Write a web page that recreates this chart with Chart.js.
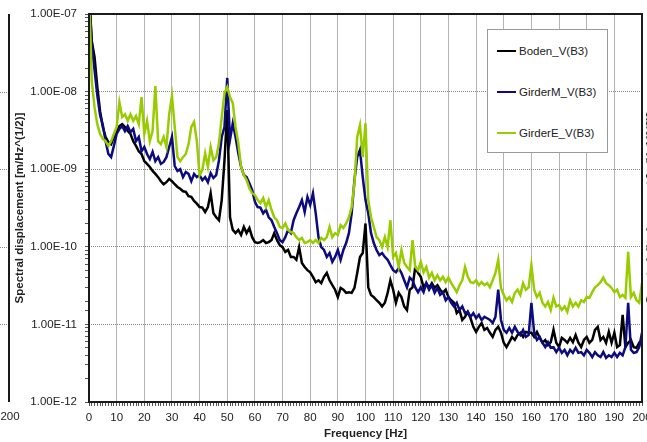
<!DOCTYPE html>
<html>
<head>
<meta charset="utf-8">
<script src="https://cdn.jsdelivr.net/npm/chart.js@4/dist/chart.umd.min.js"></script>
<style>
  html, body { margin: 0; padding: 0; background: #fff; }
  #wrap { position: relative; width: 647px; height: 442px; overflow: hidden; }
  #legend {
    position: absolute; left: 487px; top: 29px; width: 119px; height: 122px;
    border: 1px solid #9a9a9a; background: #fff;
    font: 11.5px "Liberation Sans", Arial, sans-serif; color: #222;
  }
  .item { position: absolute; left: 9px; height: 14px; line-height: 14px; white-space: nowrap; }
  .swatch { display: inline-block; width: 19px; height: 2px; vertical-align: middle; margin-right: 3px; position: relative; top: -1px; }
  #nextTitle {
    position: absolute; left: 650px; top: 208px; white-space: nowrap;
    transform: translate(-50%, -50%) rotate(-90deg);
    font: bold 11.5px "Liberation Sans", Arial, sans-serif; color: #222;
  }
</style>
</head>
<body>
<div id="wrap">
  <canvas id="spektrum" width="647" height="442"></canvas>
  <div id="legend"></div>
  <div id="nextTitle">Spectral displacement [m/Hz^(1/2)]</div>
</div>
<script>
// Frequenz [Hz]
const freqHz = [
  0,1,2,3,4,5,6,7,8,9,10,11,12,13,14,15,16,17,18,19,20,21,22,23,24,25,26,27,28,29,
  30,31,32,33,34,35,36,37,38,39,40,41,42,43,44,45,46,47,48,49,50,51,52,53,54,55,56,57,58,59,
  60,61,62,63,64,65,66,67,68,69,70,71,72,73,74,75,76,77,78,79,80,81,82,83,84,85,86,87,88,89,
  90,91,92,93,94,95,96,97,98,99,100,101,102,103,104,105,106,107,108,109,110,111,112,113,114,115,116,117,118,119,
  120,121,122,123,124,125,126,127,128,129,130,131,132,133,134,135,136,137,138,139,140,141,142,143,144,145,146,147,148,149,
  150,151,152,153,154,155,156,157,158,159,160,161,162,163,164,165,166,167,168,169,170,171,172,173,174,175,176,177,178,179,
  180,181,182,183,184,185,186,187,188,189,190,191,192,193,194,195,196,197,198,199,200
];

const boden = [
  2.0e-7,4.5e-8,2.8e-8,1.15e-8,5.6e-9,3.5e-9,2.6e-9,2.24e-9,2.1e-9,2.6e-9,
  3.1e-9,3.6e-9,3.8e-9,3.5e-9,3.1e-9,2.85e-9,2.3e-9,2.0e-9,1.7e-9,1.57e-9,
  1.27e-9,1.17e-9,1.07e-9,9.5e-10,8.7e-10,7.9e-10,7.0e-10,6.4e-10,6.8e-10,7.5e-10,
  7.0e-10,6.4e-10,5.9e-10,5.6e-10,5.2e-10,5.1e-10,4.5e-10,4.4e-10,3.9e-10,3.6e-10,
  3.25e-10,3.2e-10,2.8e-10,3.25e-10,4.9e-10,2.7e-10,2.4e-10,2.2e-10,4.0e-10,1.3e-9,
  5.8e-9,2.4e-10,1.65e-10,1.5e-10,1.65e-10,1.42e-10,1.8e-10,1.5e-10,1.75e-10,1.33e-10,
  1.15e-10,1.12e-10,1.15e-10,1.22e-10,1.12e-10,1.15e-10,1.22e-10,1.5e-10,1.22e-10,1.05e-10,
  9.9e-11,8.6e-11,9.1e-11,7.4e-11,7.4e-11,6.8e-11,9.9e-11,6.2e-11,5.5e-11,5.0e-11,
  4.7e-11,4.1e-11,3.5e-11,3.7e-11,3.4e-11,4.1e-11,4.6e-11,3.7e-11,3.2e-11,2.8e-11,
  2.25e-11,2.95e-11,2.8e-11,2.55e-11,2.6e-11,2.55e-11,2.95e-11,4.6e-11,7.4e-11,8.3e-11,
  2.0e-10,3.0e-11,2.4e-11,2.25e-11,2.05e-11,1.9e-11,1.7e-11,1.9e-11,2.55e-11,3.7e-11,
  2.8e-11,1.9e-11,2.55e-11,2.25e-11,1.7e-11,1.53e-11,2.8e-11,3.0e-11,5.5e-11,4.6e-11,
  4.1e-11,3.0e-11,3.4e-11,2.95e-11,3.4e-11,2.95e-11,3.2e-11,2.8e-11,2.55e-11,2.8e-11,
  2.25e-11,2.05e-11,1.9e-11,1.4e-11,1.53e-11,1.14e-11,1.25e-11,1.45e-11,1.2e-11,9.3e-12,
  8.0e-12,9.3e-12,1.04e-11,8.5e-12,9.0e-12,7.8e-12,6.9e-12,8.5e-12,9.3e-12,7.8e-12,
  5.8e-12,5.1e-12,5.9e-12,6.9e-12,6.3e-12,7.3e-12,7.8e-12,6.9e-12,8.0e-12,7.8e-12,
  7.8e-12,6.9e-12,8.0e-12,6.7e-12,5.8e-12,6.3e-12,5.4e-12,5.9e-12,8.5e-12,5.8e-12,
  5.1e-12,6.7e-12,6.3e-12,5.8e-12,6.7e-12,5.9e-12,7.3e-12,5.8e-12,5.1e-12,6.3e-12,
  6.9e-12,5.8e-12,6.3e-12,8.5e-12,9.3e-12,6.3e-12,6.9e-12,5.8e-12,8.0e-12,5.8e-12,
  7.8e-12,5.1e-12,5.4e-12,1.33e-11,5.1e-12,5.8e-12,6.3e-12,5.1e-12,5.0e-12,5.8e-12,
  5.4e-12
];

const girderM = [
  2.0e-7,4.0e-8,1.9e-8,9.0e-9,5.0e-9,3.7e-9,2.3e-9,1.57e-9,1.43e-9,2.0e-9,
  2.85e-9,3.3e-9,3.6e-9,3.1e-9,3.6e-9,3.0e-9,3.3e-9,2.3e-9,2.6e-9,1.7e-9,
  1.93e-9,1.57e-9,1.35e-9,1.67e-9,1.27e-9,1.43e-9,1.17e-9,1.24e-9,1.43e-9,1.93e-9,
  2.6e-9,1.1e-9,9.5e-10,1.0e-9,7.9e-10,9.2e-10,8.7e-10,7.0e-10,8.7e-10,7.9e-10,
  8.4e-10,7.25e-10,7.9e-10,6.8e-10,8.9e-10,7.7e-10,8.4e-10,1.3e-9,2.6e-9,3.5e-9,
  1.5e-8,2.4e-9,3.9e-9,2.6e-9,1.6e-9,1.07e-9,8.4e-10,7.9e-10,6.6e-10,5.4e-10,
  3.8e-10,3.25e-10,3.2e-10,2.7e-10,3.0e-10,2.4e-10,2.2e-10,1.8e-10,1.5e-10,1.22e-10,
  1.15e-10,1.33e-10,1.65e-10,1.5e-10,2.2e-10,2.7e-10,3.25e-10,4.0e-10,2.8e-10,4.4e-10,
  3.45e-10,4.9e-10,2.7e-10,1.33e-10,9.9e-11,9.1e-11,7.4e-11,8.3e-11,6.4e-11,7.4e-11,
  9.1e-11,6.8e-11,9.1e-11,1.12e-10,1.5e-10,2.7e-10,7.25e-10,1.43e-9,1.77e-9,7.9e-10,
  4.0e-10,2.7e-10,1.5e-10,1.12e-10,9.1e-11,7.8e-11,8.3e-11,7.4e-11,6.8e-11,5.8e-11,
  5.0e-11,4.7e-11,5.3e-11,4.6e-11,3.7e-11,3.0e-11,4.0e-11,3.7e-11,3.0e-11,2.6e-11,
  3.0e-11,2.6e-11,3.4e-11,2.8e-11,3.2e-11,2.55e-11,2.95e-11,2.4e-11,2.6e-11,2.05e-11,
  2.25e-11,1.9e-11,1.7e-11,1.9e-11,1.53e-11,1.7e-11,1.4e-11,1.45e-11,1.25e-11,1.4e-11,
  1.2e-11,1.33e-11,1.14e-11,1.25e-11,1.2e-11,1.14e-11,1.04e-11,1.25e-11,2.8e-11,1.14e-11,
  8.5e-12,7.8e-12,9.0e-12,7.8e-12,9.3e-12,8.0e-12,7.3e-12,8.5e-12,6.9e-12,7.3e-12,
  1.9e-11,7.8e-12,6.3e-12,6.9e-12,5.8e-12,5.1e-12,5.9e-12,5.0e-12,5.1e-12,4.4e-12,
  5.0e-12,4.3e-12,4.7e-12,4.0e-12,4.7e-12,4.3e-12,5.0e-12,4.3e-12,4.4e-12,4.0e-12,
  4.7e-12,4.3e-12,3.8e-12,4.4e-12,4.0e-12,3.8e-12,4.4e-12,3.7e-12,4.0e-12,3.8e-12,
  4.3e-12,3.8e-12,4.3e-12,4.0e-12,5.1e-12,1.9e-11,4.7e-12,4.3e-12,4.4e-12,5.1e-12,
  7.8e-12
];

const girderE = [
  2.0e-7,1.37e-8,6.3e-9,3.8e-9,2.85e-9,2.45e-9,2.3e-9,2.0e-9,2.3e-9,2.85e-9,
  3.5e-9,7.3e-9,4.7e-9,5.1e-9,4.2e-9,5.1e-9,4.2e-9,4.85e-9,3.8e-9,8.5e-9,
  2.85e-9,4.2e-9,2.3e-9,3.1e-9,1.18e-8,2.3e-9,2.1e-9,2.6e-9,1.93e-9,5.1e-9,
  8.8e-9,3.5e-9,1.43e-9,1.27e-9,1.43e-9,1.57e-9,2.1e-9,3.5e-9,4.05e-9,2.3e-9,
  8.4e-10,9.8e-10,1.6e-9,1.07e-9,1.93e-9,1.3e-9,1.43e-9,2.17e-9,4.7e-9,9.6e-9,
  1.15e-8,8.5e-9,7.1e-9,3.5e-9,2.17e-9,1.07e-9,8.4e-10,7.25e-10,5.7e-10,4.9e-10,
  4.65e-10,4.0e-10,3.65e-10,4.25e-10,3.25e-10,4.0e-10,3.0e-10,2.4e-10,2.2e-10,1.8e-10,
  1.75e-10,2.0e-10,1.65e-10,1.55e-10,1.5e-10,1.33e-10,1.22e-10,1.3e-10,1.12e-10,1.15e-10,
  1.22e-10,1.12e-10,1.22e-10,1.12e-10,1.3e-10,1.22e-10,1.33e-10,1.8e-10,1.33e-10,1.5e-10,
  1.42e-10,1.9e-10,1.75e-10,2.0e-10,2.4e-10,3.25e-10,6.6e-10,2.6e-9,3.7e-9,1.43e-9,
  3.9e-9,4.0e-10,2.4e-10,1.8e-10,1.33e-10,1.22e-10,9.9e-11,1.33e-10,9.9e-11,2.2e-10,
  7.4e-11,8.3e-11,5.5e-11,9.1e-11,6.2e-11,5.5e-11,5.0e-11,1.22e-10,5.5e-11,5.0e-11,
  6.4e-11,4.7e-11,5.5e-11,4.0e-11,4.6e-11,3.7e-11,4.3e-11,3.7e-11,4.1e-11,3.5e-11,
  4.0e-11,3.4e-11,3.0e-11,2.6e-11,3.2e-11,3.7e-11,5.5e-11,4.1e-11,3.5e-11,3.4e-11,
  3.7e-11,3.2e-11,3.5e-11,3.2e-11,3.4e-11,3.0e-11,3.7e-11,4.6e-11,6.8e-11,2.95e-11,
  2.4e-11,2.05e-11,2.25e-11,1.95e-11,2.55e-11,2.8e-11,2.4e-11,3.4e-11,2.8e-11,3.0e-11,
  5.8e-11,2.8e-11,2.25e-11,2.55e-11,1.9e-11,1.7e-11,1.95e-11,1.53e-11,2.2e-11,1.7e-11,
  1.78e-11,1.53e-11,1.7e-11,1.45e-11,2.05e-11,1.7e-11,1.9e-11,1.7e-11,2.05e-11,1.95e-11,
  2.25e-11,2.2e-11,2.6e-11,3.0e-11,3.2e-11,3.5e-11,4.0e-11,3.4e-11,3.2e-11,2.95e-11,
  2.6e-11,2.8e-11,2.25e-11,2.4e-11,2.2e-11,8.6e-11,2.25e-11,2.55e-11,2.05e-11,1.9e-11,
  3.4e-11
];

const serien = [
  { label: "Boden_V(B3)", data: boden, color: "#000000", order: 2 },
  { label: "GirderM_V(B3)", data: girderM, color: "#0b0b7e", order: 1 },
  { label: "GirderE_V(B3)", data: girderE, color: "#99cc00", order: 0 }
];

const FONT = '"Liberation Sans", Arial, sans-serif';

function istDekade(v) {
  const l = Math.log10(v);
  return Math.abs(l - Math.round(l)) < 1e-9;
}
function expLabel(v) {
  const e = Math.round(Math.log10(v));
  return "1.00E-" + String(-e).padStart(2, "0");
}

// Rahmen um den Plotbereich + Rest vom Nachbardiagramm links
const rahmen = {
  id: "rahmen",
  afterDatasetsDraw(chart) {
    const { ctx, chartArea: a, scales } = chart;
    ctx.save();
    ctx.strokeStyle = "#1a1a1a";
    ctx.lineWidth = 2;
    ctx.strokeRect(a.left, a.top, a.right - a.left, a.bottom - a.top);

    // linkes Nachbardiagramm (abgeschnitten)
    ctx.beginPath();
    ctx.moveTo(9, a.top);
    ctx.lineTo(9, a.bottom);
    ctx.stroke();
    ctx.lineWidth = 1;
    ctx.strokeStyle = "#8a8a8a";
    ctx.setLineDash([1, 1]);
    [1e-8, 1e-9, 1e-10, 1e-11].forEach(v => {
      const y = Math.round(scales.y.getPixelForValue(v)) + 0.5;
      ctx.beginPath();
      ctx.moveTo(0, y);
      ctx.lineTo(8, y);
      ctx.stroke();
    });
    ctx.setLineDash([]);
    ctx.fillStyle = "#222";
    ctx.font = "11.5px " + FONT;
    ctx.textAlign = "center";
    ctx.textBaseline = "middle";
    ctx.fillText("200", 10, 417);
    ctx.restore();
  }
};

new Chart(document.getElementById("spektrum"), {
  type: "line",
  data: {
    labels: freqHz,
    datasets: serien.map(s => ({
      label: s.label,
      data: s.data,
      borderColor: s.color,
      backgroundColor: s.color,
      borderWidth: 2.5,
      pointRadius: 0,
      tension: 0,
      fill: false,
      order: s.order
    }))
  },
  options: {
    responsive: false,
    devicePixelRatio: 1,
    animation: false,
    layout: { padding: { top: 14, right: 5, left: 0, bottom: 0 } },
    plugins: { legend: { display: false }, tooltip: { enabled: false } },
    scales: {
      x: {
        type: "linear",
        min: 0,
        max: 200,
        ticks: {
          stepSize: 1,
          autoSkip: false,
          maxRotation: 0,
          minRotation: 0,
          maxTicksLimit: 500,
          padding: 5,
          color: "#222",
          font: { family: FONT, size: 11.5 },
          callback: v => (v % 10 === 0 ? v : "")
        },
        grid: {
          color: c => (c.tick && c.tick.value % 10 === 0 ? "#b4b4b4" : "rgba(0,0,0,0)"),
          tickColor: "#555",
          tickLength: 4
        },
        border: { display: false },
        title: {
          display: true,
          text: "Frequency [Hz]",
          color: "#222",
          font: { family: FONT, size: 11.5, weight: "bold" },
          padding: { top: 0, bottom: 1 }
        },
        afterFit: s => { s.height = 40; s.paddingLeft = 0; s.paddingRight = 0; }
      },
      y: {
        type: "logarithmic",
        min: 1e-12,
        max: 1e-7,
        ticks: {
          autoSkip: false,
          padding: 8,
          color: "#222",
          font: { family: FONT, size: 11.5 },
          callback: v => (istDekade(v) ? expLabel(v) : "")
        },
        grid: {
          color: c => (c.tick && istDekade(c.tick.value) ? "#8a8a8a" : "rgba(0,0,0,0)"),
          tickColor: "#555",
          tickLength: 4
        },
        border: { display: false, dash: [1, 1] },
        title: {
          display: true,
          text: "Spectral displacement [m/Hz^(1/2)]",
          color: "#222",
          font: { family: FONT, size: 11.5, weight: "bold" },
          padding: { top: 13, bottom: 0 }
        },
        afterFit: s => { s.width = 89; s.paddingTop = 0; s.paddingBottom = 0; }
      }
    }
  },
  plugins: [rahmen]
});

// LEGENDE
const legende = document.getElementById("legend");
serien.forEach((s, i) => {
  legende.innerHTML += `
    <div class="item" style="top:${14 + i * 41}px">
      <span class="swatch" style="background:${s.color}"></span>${s.label}
    </div>
  `;
});
</script>
</body>
</html>
